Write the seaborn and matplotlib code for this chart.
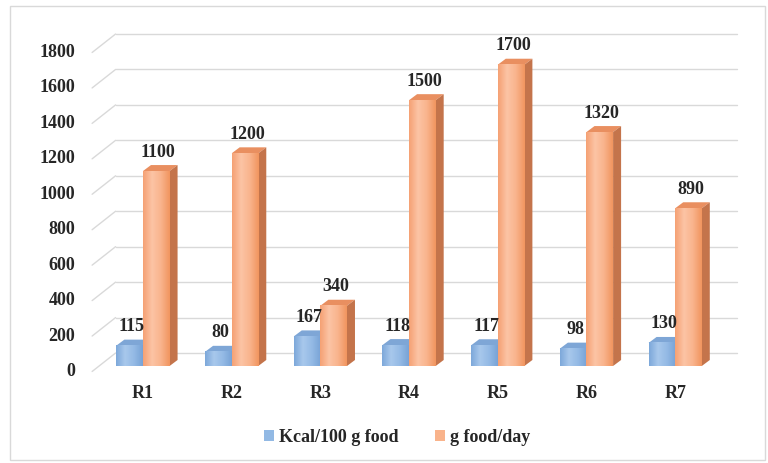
import seaborn as sns
import matplotlib.pyplot as plt
import pandas as pd
import numpy as np
from matplotlib.patches import Polygon, Rectangle, Patch
from matplotlib.colors import LinearSegmentedColormap

regions = ["R1", "R2", "R3", "R4", "R5", "R6", "R7"]
kcal = [115, 80, 167, 118, 117, 98, 130]
food = [1100, 1200, 340, 1500, 1700, 1320, 890]
series = ["Kcal/100 g food", "g food/day"]
yticks = list(range(0, 2000, 200))

df = pd.DataFrame({
    "region": regions * 2,
    "series": [series[0]] * len(regions) + [series[1]] * len(regions),
    "value": kcal + food,
})

sns.set_style("white")
plt.rcParams["font.family"] = ["Liberation Serif", "DejaVu Serif"]
plt.rcParams["font.weight"] = "bold"

front = {series[0]: "#92b9e4", series[1]: "#f9b38b"}
shades = [["#7da8da", "#a8c8ec", "#94bae5", "#78a3d6"],
          ["#f5a174", "#fcc4a5", "#f9b48d", "#f1955f"]]
tops = ["#7ea6d6", "#e98f60"]
sides = ["#5d86bb", "#c4744b"]
grid = "#d9d9d9"

fig = plt.figure(figsize=(7.68, 4.63), dpi=100)
ax = fig.add_axes([0.1284, 0.2095, 0.8085, 0.689])
sns.barplot(data=df, x="region", y="value", hue="series", palette=front,
            width=0.6, gap=0, saturation=1, legend=False, ax=ax)
ax.set_xlim(-0.5, 6.5)
ax.set_ylim(0, 1800)
for s in ax.spines.values():
    s.set_visible(False)
ax.set_xlabel("")
ax.set_ylabel("")
ax.set_yticks([])
ax.set_xticks(range(len(regions)), regions)
ax.tick_params(axis="x", length=0, pad=14, labelsize=13)

# data units per pixel, used for the 3D offsets
ux = 7 / ax.bbox.width
uy = 1800 / ax.bbox.height
wall = (17 * ux, 13 * uy)
fr = (-6.5 * ux, -5.5 * uy)
dx, dy = 8 * ux, 6 * uy

# back wall and side wall gridlines
for v in yticks:
    ax.plot([-0.5 + wall[0], 6.5 + wall[0]], [v + wall[1], v + wall[1]],
            color=grid, lw=1, zorder=0, clip_on=False)
    ax.plot([-0.5 + fr[0], -0.5 + wall[0]], [v + fr[1], v + wall[1]],
            color=grid, lw=1, zorder=0, clip_on=False)
    ax.text(-0.5 - 23.6 * ux, v + fr[1], str(v), ha="right", va="center",
            fontsize=13, fontweight="bold")

# 3D faces, shaded fronts and value labels
ramp = np.linspace(0, 1, 64).reshape(1, -1)
for i, cont in enumerate(ax.containers):
    cmap = LinearSegmentedColormap.from_list(f"shade{i}", shades[i])
    for bar, val in zip(cont, cont.datavalues):
        bar.set_zorder(3)
        bar.set_edgecolor("none")
        x, w, h = bar.get_x(), bar.get_width(), bar.get_height()
        ax.imshow(ramp, cmap=cmap, extent=(x, x + w, 0, h), aspect="auto",
                  interpolation="bilinear", zorder=3)
        ax.add_patch(Polygon([(x, h), (x + w, h), (x + w + dx, h + dy), (x + dx, h + dy)],
                             closed=True, fc=tops[i], ec="none", zorder=2, clip_on=False))
        ax.add_patch(Polygon([(x + w, 0), (x + w + dx, dy), (x + w + dx, h + dy), (x + w, h)],
                             closed=True, fc=sides[i], ec="none", zorder=2, clip_on=False))
        ax.text(x + w / 2 + 2 * ux, h + 19 * uy, f"{val:.0f}", ha="center", va="center",
                fontsize=13, fontweight="bold", zorder=4)
ax.set_xlim(-0.5, 6.5)
ax.set_ylim(0, 1800)

handles = [Patch(fc=front[s], ec="none") for s in series]
fig.legend(handles, series, loc="center", bbox_to_anchor=(0.517, 0.056), ncol=2,
           frameon=False, fontsize=13, handlelength=0.55, handleheight=0.55,
           handletextpad=0.3, columnspacing=2.0)

fig.patches.append(Rectangle((10 / 768, 3 / 463), 755 / 768, 454 / 463,
                             transform=fig.transFigure, fill=False, ec=grid, lw=1))

fig.savefig("out.png", dpi=100)
plt.close(fig)
